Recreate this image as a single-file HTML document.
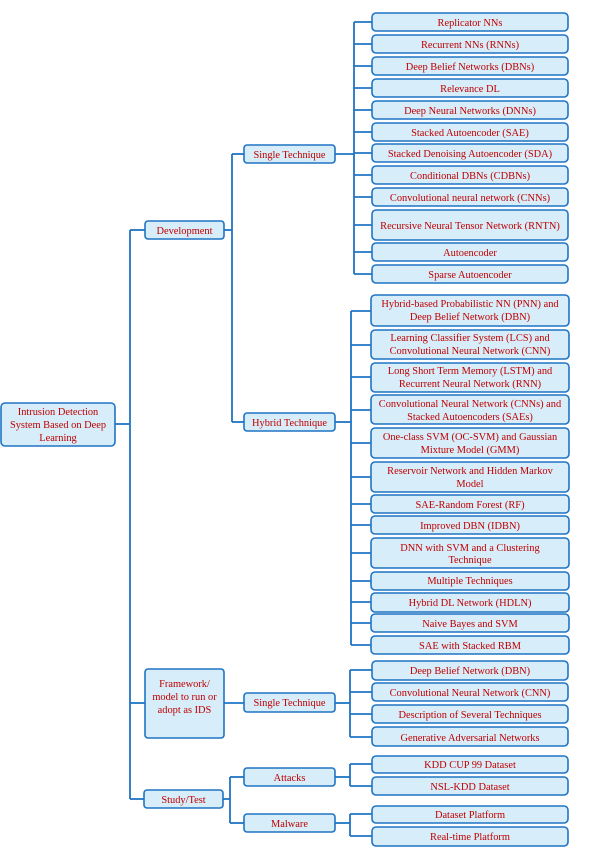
<!DOCTYPE html>
<html><head><meta charset="utf-8"><style>
html,body{margin:0;padding:0;background:#fff;}
svg{display:block}
rect{fill:#d7edf9;stroke:#1f74c4;stroke-width:1.6}
line,polyline{stroke:#1f74c4;stroke-width:1.8;fill:none}
text{font-family:"Liberation Serif",serif;font-size:10.4px;fill:#c00000;text-anchor:middle}
</style></head><body>
<svg width="601" height="854" viewBox="0 0 601 854" xmlns="http://www.w3.org/2000/svg">
<line x1="115" y1="424" x2="130" y2="424"/>
<line x1="130" y1="230" x2="130" y2="799"/>
<line x1="130" y1="230" x2="145" y2="230"/>
<line x1="130" y1="703" x2="145" y2="703"/>
<line x1="130" y1="799" x2="144" y2="799"/>
<line x1="224" y1="230" x2="232" y2="230"/>
<line x1="232" y1="154" x2="232" y2="422"/>
<line x1="232" y1="154" x2="244" y2="154"/>
<line x1="232" y1="422" x2="244" y2="422"/>
<line x1="224" y1="703" x2="244" y2="703"/>
<line x1="223" y1="799" x2="230" y2="799"/>
<line x1="230" y1="777" x2="230" y2="823"/>
<line x1="230" y1="777" x2="244" y2="777"/>
<line x1="230" y1="823" x2="244" y2="823"/>
<line x1="335" y1="154" x2="354" y2="154"/>
<line x1="354" y1="22" x2="354" y2="274"/>
<g>
<line x1="354" y1="22" x2="372" y2="22"/><line x1="354" y1="44" x2="372" y2="44"/><line x1="354" y1="66" x2="372" y2="66"/><line x1="354" y1="88" x2="372" y2="88"/><line x1="354" y1="110" x2="372" y2="110"/><line x1="354" y1="132" x2="372" y2="132"/><line x1="354" y1="153" x2="372" y2="153"/><line x1="354" y1="175" x2="372" y2="175"/><line x1="354" y1="197" x2="372" y2="197"/><line x1="354" y1="225" x2="372" y2="225"/><line x1="354" y1="252" x2="372" y2="252"/><line x1="354" y1="274" x2="372" y2="274"/>
</g>
<line x1="335" y1="422" x2="351" y2="422"/>
<line x1="351" y1="311" x2="351" y2="645"/>
<g>
<line x1="351" y1="311" x2="371" y2="311"/><line x1="351" y1="345" x2="371" y2="345"/><line x1="351" y1="377" x2="371" y2="377"/><line x1="351" y1="410" x2="371" y2="410"/><line x1="351" y1="443" x2="371" y2="443"/><line x1="351" y1="477" x2="371" y2="477"/><line x1="351" y1="504" x2="371" y2="504"/><line x1="351" y1="525" x2="371" y2="525"/><line x1="351" y1="553" x2="371" y2="553"/><line x1="351" y1="581" x2="371" y2="581"/><line x1="351" y1="602" x2="371" y2="602"/><line x1="351" y1="623" x2="371" y2="623"/><line x1="351" y1="645" x2="371" y2="645"/>
</g>
<line x1="335" y1="703" x2="350" y2="703"/>
<line x1="350" y1="670" x2="350" y2="737"/>
<line x1="350" y1="670" x2="372" y2="670"/><line x1="350" y1="692" x2="372" y2="692"/><line x1="350" y1="714" x2="372" y2="714"/><line x1="350" y1="737" x2="372" y2="737"/>
<line x1="335" y1="777" x2="350" y2="777"/>
<line x1="350" y1="764" x2="350" y2="786"/>
<line x1="350" y1="764" x2="372" y2="764"/><line x1="350" y1="786" x2="372" y2="786"/>
<line x1="335" y1="823" x2="350" y2="823"/>
<line x1="350" y1="814" x2="350" y2="836"/>
<line x1="350" y1="814" x2="372" y2="814"/><line x1="350" y1="836" x2="372" y2="836"/>

<rect x="1" y="403" width="114" height="43" rx="4"/>
<text x="58" y="415">Intrusion Detection</text>
<text x="58" y="428">System Based on Deep</text>
<text x="58" y="441">Learning</text>
<rect x="145" y="221" width="79" height="18" rx="3"/><text x="184.5" y="234">Development</text>
<rect x="145" y="669" width="79" height="69" rx="3"/>
<text x="184.5" y="687">Framework/</text><text x="184.5" y="700">model to run or</text><text x="184.5" y="713">adopt as IDS</text>
<rect x="144" y="790" width="79" height="18" rx="3"/><text x="183.5" y="803">Study/Test</text>
<rect x="244" y="145" width="91" height="18" rx="3"/><text x="289.5" y="158">Single Technique</text>
<rect x="244" y="413" width="91" height="18" rx="3"/><text x="289.5" y="426">Hybrid Technique</text>
<rect x="244" y="693" width="91" height="19" rx="3"/><text x="289.5" y="706">Single Technique</text>
<rect x="244" y="768" width="91" height="18" rx="3"/><text x="289.5" y="781">Attacks</text>
<rect x="244" y="814" width="91" height="18" rx="3"/><text x="289.5" y="827">Malware</text>
<rect x="372" y="13" width="196" height="18" rx="4"/><text x="470" y="26">Replicator NNs</text>
<rect x="372" y="35" width="196" height="18" rx="4"/><text x="470" y="48">Recurrent NNs (RNNs)</text>
<rect x="372" y="57" width="196" height="18" rx="4"/><text x="470" y="70">Deep Belief Networks (DBNs)</text>
<rect x="372" y="79" width="196" height="18" rx="4"/><text x="470" y="92">Relevance DL</text>
<rect x="372" y="101" width="196" height="18" rx="4"/><text x="470" y="114">Deep Neural Networks (DNNs)</text>
<rect x="372" y="123" width="196" height="18" rx="4"/><text x="470" y="136">Stacked Autoencoder (SAE)</text>
<rect x="372" y="144" width="196" height="18" rx="4"/><text x="470" y="157">Stacked Denoising Autoencoder (SDA)</text>
<rect x="372" y="166" width="196" height="18" rx="4"/><text x="470" y="179">Conditional DBNs (CDBNs)</text>
<rect x="372" y="188" width="196" height="18" rx="4"/><text x="470" y="201">Convolutional neural network (CNNs)</text>
<rect x="372" y="210" width="196" height="30" rx="4"/><text x="470" y="229">Recursive Neural Tensor Network (RNTN)</text>
<rect x="372" y="243" width="196" height="18" rx="4"/><text x="470" y="256">Autoencoder</text>
<rect x="372" y="265" width="196" height="18" rx="4"/><text x="470" y="278">Sparse Autoencoder</text>
<rect x="371" y="295" width="198" height="31" rx="4"/><text x="470" y="307">Hybrid-based Probabilistic NN (PNN) and</text><text x="470" y="320">Deep Belief Network (DBN)</text>
<rect x="371" y="330" width="198" height="29" rx="4"/><text x="470" y="341">Learning Classifier System (LCS) and</text><text x="470" y="354">Convolutional Neural Network (CNN)</text>
<rect x="371" y="363" width="198" height="29" rx="4"/><text x="470" y="374">Long Short Term Memory (LSTM) and</text><text x="470" y="387">Recurrent Neural Network (RNN)</text>
<rect x="371" y="395" width="198" height="29" rx="4"/><text x="470" y="407">Convolutional Neural Network (CNNs) and</text><text x="470" y="420">Stacked Autoencoders (SAEs)</text>
<rect x="371" y="428" width="198" height="30" rx="4"/><text x="470" y="440">One-class SVM (OC-SVM) and Gaussian</text><text x="470" y="453">Mixture Model (GMM)</text>
<rect x="371" y="462" width="198" height="30" rx="4"/><text x="470" y="474">Reservoir Network and Hidden Markov</text><text x="470" y="487">Model</text>
<rect x="371" y="495" width="198" height="18" rx="4"/><text x="470" y="508">SAE-Random Forest (RF)</text>
<rect x="371" y="516" width="198" height="18" rx="4"/><text x="470" y="529">Improved DBN (IDBN)</text>
<rect x="371" y="538" width="198" height="30" rx="4"/><text x="470" y="551">DNN with SVM and a Clustering</text><text x="470" y="563">Technique</text>
<rect x="371" y="572" width="198" height="18" rx="4"/><text x="470" y="584">Multiple Techniques</text>
<rect x="371" y="593" width="198" height="19" rx="4"/><text x="470" y="606">Hybrid DL Network (HDLN)</text>
<rect x="371" y="614" width="198" height="18" rx="4"/><text x="470" y="627">Naive Bayes and SVM</text>
<rect x="371" y="636" width="198" height="18" rx="4"/><text x="470" y="649">SAE with Stacked RBM</text>
<rect x="372" y="661" width="196" height="19" rx="4"/><text x="470" y="674">Deep Belief Network (DBN)</text>
<rect x="372" y="683" width="196" height="18" rx="4"/><text x="470" y="696">Convolutional Neural Network (CNN)</text>
<rect x="372" y="705" width="196" height="18" rx="4"/><text x="470" y="718">Description of Several Techniques</text>
<rect x="372" y="727" width="196" height="19" rx="4"/><text x="470" y="741">Generative Adversarial Networks</text>
<rect x="372" y="756" width="196" height="17" rx="4"/><text x="470" y="768">KDD CUP 99 Dataset</text>
<rect x="372" y="777" width="196" height="18" rx="4"/><text x="470" y="790">NSL-KDD Dataset</text>
<rect x="372" y="806" width="196" height="17" rx="4"/><text x="470" y="818">Dataset Platform</text>
<rect x="372" y="827" width="196" height="19" rx="4"/><text x="470" y="840">Real-time Platform</text>
</svg>
</body></html>
